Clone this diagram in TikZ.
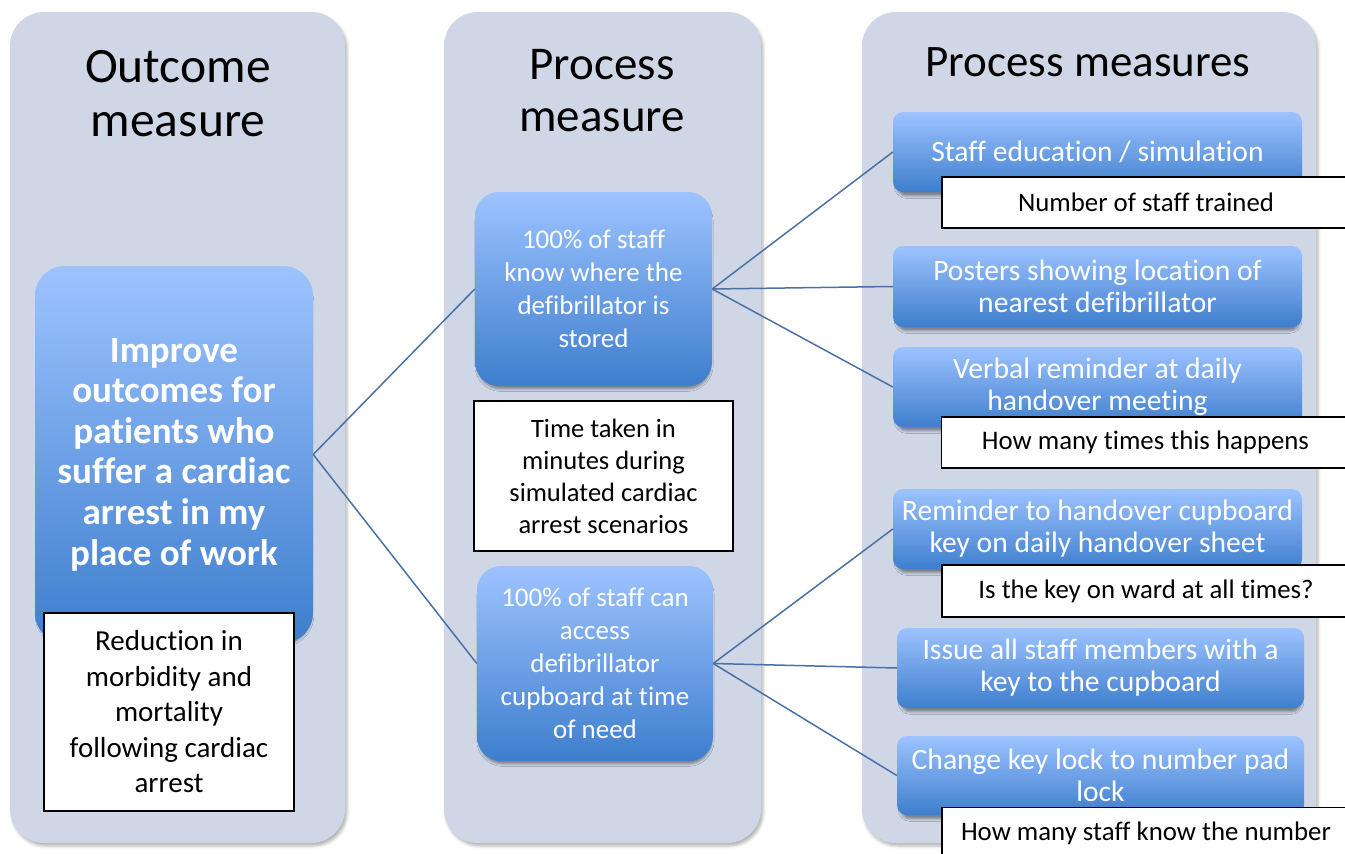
\documentclass[tikz,border=0pt]{standalone}
\usepackage{fontspec}
\setmainfont{Carlito}[Ligatures=NoCommon]
\usetikzlibrary{shadows.blur}

\definecolor{panelbg}{RGB}{207,214,230}
\definecolor{bluetop}{RGB}{157,195,255}
\definecolor{bluebot}{RGB}{62,126,205}
\definecolor{linkblue}{RGB}{74,113,166}

\tikzset{
  panel/.style={fill=panelbg, draw=none, rounded corners=34pt, inner sep=0pt,
    blur shadow={shadow xshift=2pt, shadow yshift=-3pt, shadow blur radius=3pt, shadow opacity=30}},
  heading/.style={text=black, align=center, inner sep=0pt},
  bluebox/.style={top color=bluetop, bottom color=bluebot, draw=none, text=white,
    align=center, inner sep=0pt,
    blur shadow={shadow xshift=0.5pt, shadow yshift=-4.5pt, shadow scale=0.985,
      shadow blur radius=2.5pt, shadow opacity=40}},
  bigbox/.style={bluebox, rounded corners=30pt},
  midbox/.style={bluebox, rounded corners=24pt, font=\fontsize{27}{33}\selectfont},
  actbox/.style={bluebox, rounded corners=10pt, font=\fontsize{29.6}{32}\selectfont},
  notebox/.style={fill=white, draw=black, line width=1.5pt, text=black, align=center, inner sep=0pt},
  link/.style={draw=linkblue, line width=1.5pt}
}

\begin{document}
\begin{tikzpicture}[x=1pt,y=-1pt]
\useasboundingbox (0,0) rectangle (1345,854);
\clip (0,0) rectangle (1345,854);

% three column panels
\node[panel, minimum width=335pt, minimum height=831pt] (outpanel) at (177.5,427.5) {};
\node[panel, minimum width=317pt, minimum height=831pt] (procpanel) at (602.5,427.5) {};
\node[panel, minimum width=454pt, minimum height=831pt] (measpanel) at (1089,427.5) {};

% column headings
\node[heading, font=\fontsize{49.5}{54}\selectfont] (h1) at (178,93.5) {Outcome\\measure};
\node[heading, font=\fontsize{47}{52}\selectfont] (h2) at (602,91) {Process\\measure};
\node[heading, font=\fontsize{45}{50}\selectfont] (h3) at (1088,62) {Process measures};

% outcome measure
\node[bigbox, minimum width=278pt, minimum height=377pt,
      font=\bfseries\fontsize{37}{40.6}\selectfont] (aim) at (174,454.5)
  {Improve\\outcomes for\\patients who\\suffer a cardiac\\arrest in my\\place of work};

% process measures (middle)
\node[midbox, minimum width=237pt, minimum height=194pt] (know) at (593.5,289)
  {100\% of staff\\know where the\\defibrillator is\\stored};
\node[midbox, minimum width=236pt, minimum height=195pt] (access) at (595,663.5)
  {100\% of staff can\\access\\defibrillator\\cupboard at time\\of need};

% change ideas (right)
\node[actbox, minimum width=409pt, minimum height=80pt] (educ) at (1097.5,152)
  {Staff education / simulation};
\node[actbox, minimum width=409pt, minimum height=81pt] (poster) at (1097.5,286.5)
  {Posters showing location of\\nearest defibrillator};
\node[actbox, minimum width=409pt, minimum height=80pt] (verbal) at (1097.5,387)
  {Verbal reminder at daily\\handover meeting};
\node[actbox, minimum width=409pt, minimum height=80pt] (sheet) at (1097.5,529)
  {Reminder to handover cupboard\\key on daily handover sheet};
\node[actbox, minimum width=407pt, minimum height=80pt] (issue) at (1100.5,668)
  {Issue all staff members with a\\key to the cupboard};
\node[actbox, minimum width=407pt, minimum height=79pt] (padlock) at (1100.5,775.5)
  {Change key lock to number pad\\lock};

% connectors
\draw[link] (aim.east) -- (know.west);
\draw[link] (aim.east) -- (access.west);
\draw[link] (know.east) -- (educ.west);
\draw[link] (know.east) -- (poster.west);
\draw[link] (know.east) -- (verbal.west);
\draw[link] (access.east) -- (sheet.west);
\draw[link] (access.east) -- (issue.west);
\draw[link] (access.east) -- (padlock.west);

% measurement notes
\node[notebox, minimum width=250pt, minimum height=198pt, font=\fontsize{29}{35.5}\selectfont] (mort) at (169,712)
  {Reduction in\\morbidity and\\mortality\\following cardiac\\arrest};
\node[notebox, minimum width=259pt, minimum height=150pt, font=\fontsize{26.5}{32}\selectfont] (timing) at (603.5,476)
  {Time taken in\\minutes during\\simulated cardiac\\arrest scenarios};
\node[notebox, minimum width=408pt, minimum height=51pt, font=\fontsize{26.8}{32}\selectfont] (trained) at (1146,202.5)
  {Number of staff trained};
\node[notebox, minimum width=408pt, minimum height=51pt, font=\fontsize{26.8}{32}\selectfont] (often) at (1145.5,442.5)
  {How many times this happens};
\node[notebox, minimum width=408pt, minimum height=52pt, font=\fontsize{26.8}{32}\selectfont] (onward) at (1146,591)
  {Is the key on ward at all times?};
\node[notebox, minimum width=408pt, minimum height=51pt, font=\fontsize{26.8}{32}\selectfont] (knownum) at (1146,833)
  {How many staff know the number};
\end{tikzpicture}
\end{document}
